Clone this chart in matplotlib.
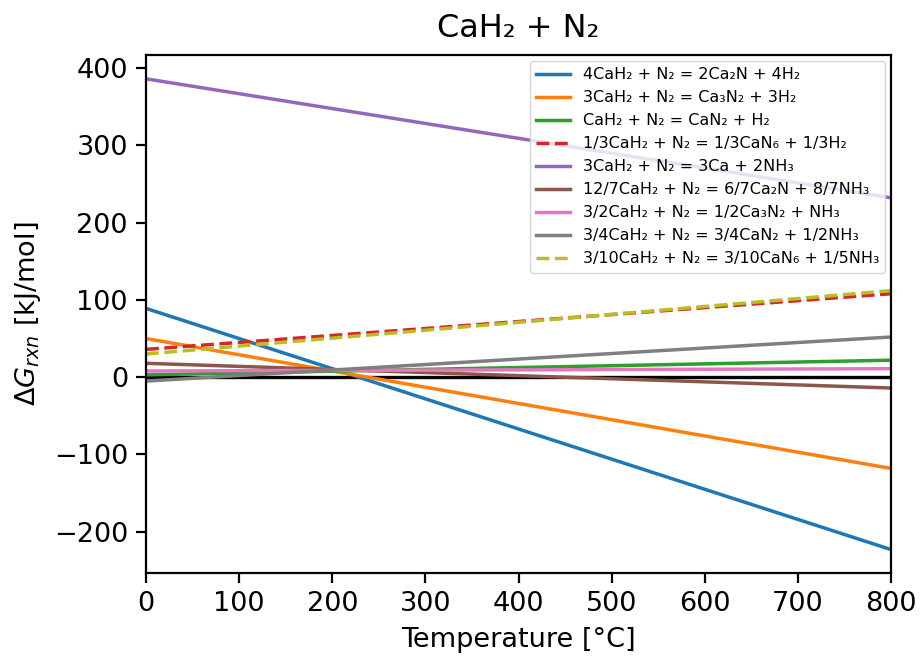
import numpy as np
import matplotlib.pyplot as plt

# ---------------- Data ----------------
T_ends = [0, 800]  # Temperature [°C]

labels = [
    "4CaH₂ + N₂ = 2Ca₂N + 4H₂",
    "3CaH₂ + N₂ = Ca₃N₂ + 3H₂",
    "CaH₂ + N₂ = CaN₂ + H₂",
    "1/3CaH₂ + N₂ = 1/3CaN₆ + 1/3H₂",
    "3CaH₂ + N₂ = 3Ca + 2NH₃",
    "12/7CaH₂ + N₂ = 6/7Ca₂N + 8/7NH₃",
    "3/2CaH₂ + N₂ = 1/2Ca₃N₂ + NH₃",
    "3/4CaH₂ + N₂ = 3/4CaN₂ + 1/2NH₃",
    "3/10CaH₂ + N₂ = 3/10CaN₆ + 1/5NH₃",
]
# dG at 0 °C and 800 °C [kJ/mol]
dG_start = [89, 50, 3, 36, 386, 18, 8, -5, 30]
dG_end = [-223, -118, 22, 108, 232, -14, 11, 52, 112]
styles = ['-', '-', '-', '--', '-', '-', '-', '-', '--']
colors = ['C0', 'C1', 'C2', 'C3', 'C4', 'C5', 'C6', 'C7', 'C8']

# ---------------- Plot ----------------
fig = plt.figure(figsize=(9.21, 6.58), dpi=100)
ax = fig.add_axes([0.1585, 0.129, 0.809, 0.787])

ax.plot(T_ends, [0, 0], color='black', lw=2.4)
for lab, g0, g1, ls, c in zip(labels, dG_start, dG_end, styles, colors):
    ax.plot(T_ends, [g0, g1], ls, color=c, lw=2.5, label=lab)

ax.set_xlim(0, 800)
ax.tick_params(labelsize=19.5, width=1.6, length=7, pad=6)
for s in ax.spines.values():
    s.set_linewidth(1.6)
ax.set_xlabel('Temperature [°C]', fontsize=19.5, labelpad=7)
ax.set_ylabel(r'$\Delta G_{rxn}$ [kJ/mol]', fontsize=19.5, labelpad=8)
ax.set_title('CaH₂ + N₂', fontsize=23, pad=13)
ax.legend(loc='upper right', fontsize=11.5, handlelength=2.1, labelspacing=0.5,
          borderaxespad=0.35)

fig.savefig('out.png', dpi=100)
